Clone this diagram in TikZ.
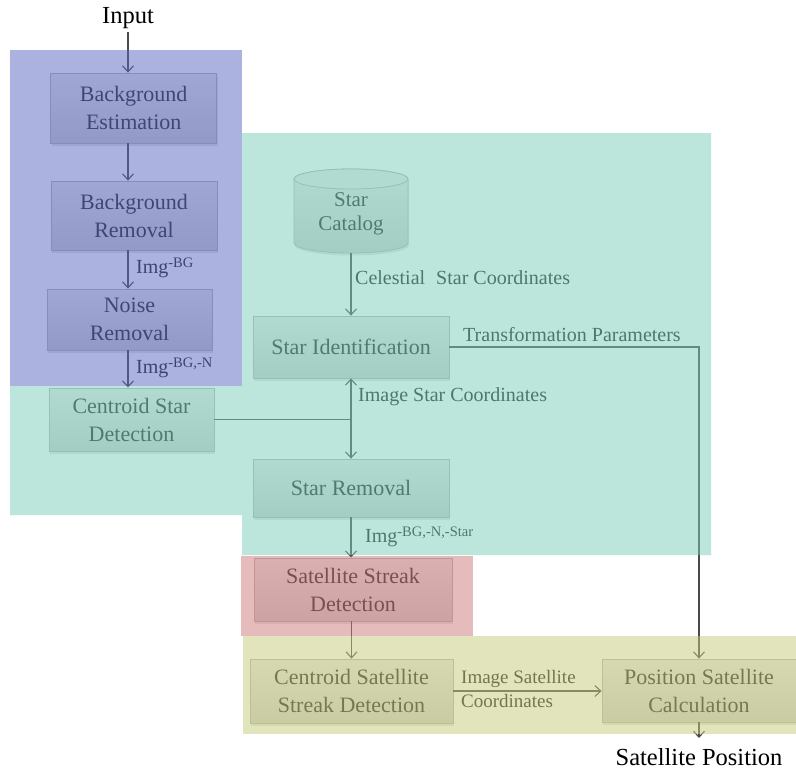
\documentclass[tikz,border=0pt]{standalone}
\usepackage{fontspec}
\setmainfont{Liberation Serif}
\usetikzlibrary{arrows.meta,shadows,calc}
\definecolor{ovblue}{HTML}{5B67C1}
\definecolor{ovgreen}{HTML}{7BCDB9}
\definecolor{ovred}{HTML}{CD797B}
\definecolor{ovyellow}{HTML}{C7CD79}
\definecolor{boxtop}{HTML}{E8E8E8}
\definecolor{boxbot}{HTML}{CDCDCD}
\definecolor{boxline}{HTML}{B4B4B4}
\definecolor{boxtext}{HTML}{262626}
\definecolor{conn}{HTML}{4A4A4A}
\newcommand\mysup[1]{\raisebox{6.5pt}{\fontsize{14.5}{16}\selectfont #1}}
\tikzset{
 procbox/.style={rectangle, draw=boxline, line width=0.8pt, top color=boxtop, bottom color=boxbot,
   text=boxtext, align=center, font=\rmfamily\fontsize{22}{28}\selectfont, inner sep=0pt,
   drop shadow={shadow xshift=1pt, shadow yshift=-2.5pt, opacity=0.2}},
 arr/.style={draw=conn, line width=1.1pt, -{Straight Barb[length=6pt,width=11pt]}},
 plainline/.style={draw=conn, line width=1.1pt},
 lbl/.style={text=black!88, font=\rmfamily\fontsize{20}{24}\selectfont, inner sep=0pt, anchor=west},
 bigtxt/.style={font=\rmfamily\fontsize{24.5}{28}\selectfont, inner sep=0pt},
 regionfill/.style={fill opacity=0.5, draw=none}
}
\begin{document}
\begin{tikzpicture}[x=1pt,y=1pt]
\useasboundingbox (0,0) rectangle (796,-771);
\fill[white] (0,0) rectangle (796,-771);

% top input
\node[bigtxt, inner sep=3pt] (inp) at (128,-18) {Input};

% left column
\node[procbox, minimum width=166pt, minimum height=70pt] (bgest) at (133.7,-108) {Background\\Estimation};
\node[procbox, minimum width=166pt, minimum height=69pt] (bgrem) at (134,-215.5) {Background\\Removal};
\node[procbox, minimum width=165pt, minimum height=61pt] (noise) at (129.5,-319.5) {Noise\\Removal};
\node[procbox, minimum width=165pt, minimum height=63pt] (cent) at (131.5,-419.5) {Centroid Star\\Detection};

% star catalog cylinder
\path[draw=boxline, line width=0.8pt, top color=boxtop, bottom color=boxbot,
  drop shadow={shadow xshift=1pt, shadow yshift=-2.5pt, opacity=0.2}]
  (294,-179) -- (294,-243) arc[start angle=180, end angle=360, x radius=57, y radius=10]
  -- (408,-179) arc[start angle=0, end angle=180, x radius=57, y radius=10] -- cycle;
\path[draw=boxline, line width=0.8pt, fill=boxtop] (351,-179) ellipse[x radius=57, y radius=10];
\node[minimum width=114pt, minimum height=78pt, inner sep=0pt, text=boxtext, align=center,
  font=\rmfamily\fontsize{21}{24}\selectfont] (cat) at (351,-214) {Star\\Catalog};

% middle column
\node[procbox, minimum width=196pt, minimum height=62pt] (sid) at (351,-347) {Star Identification};
\node[procbox, minimum width=196pt, minimum height=58pt] (srem) at (351,-488) {Star Removal};
\node[procbox, minimum width=198pt, minimum height=63pt] (sat) at (353,-589.5) {Satellite Streak\\Detection};
\node[procbox, minimum width=203pt, minimum height=64pt] (csat) at (351.5,-691) {Centroid Satellite\\Streak Detection};
\node[procbox, minimum width=194pt, minimum height=63pt] (pos) at (699,-690.5) {Position Satellite\\Calculation};

% output
\node[bigtxt] (out) at (699,-757) {Satellite Position};
\coordinate (outtip) at (699,-738);

% connectors left column
\draw[arr] (inp.south) -- (bgest.north -| inp.south);
\draw[arr] (bgest.south -| inp.south) -- (bgrem.north -| inp.south);
\draw[arr] (bgrem.south -| inp.south) -- (noise.north -| inp.south);
\draw[arr] (noise.south -| inp.south) -- (cent.north -| inp.south);
\node[lbl] (limg1) at (136,-268) {Img\mysup{-BG}};
\node[lbl] (limg2) at (136,-368) {Img\mysup{-BG,-N}};

% centroid star detection junction
\coordinate (jn) at (cent.east -| sid.south);
\draw[plainline] (cent.east) -- (jn);
\draw[arr] (jn) -- (sid.south);
\draw[arr] (jn) -- (srem.north);
\node[lbl] (limgstar) at (358,-397) {Image Star Coordinates};

% catalog
\draw[arr] (cat.south) -- (sid.north);
\node[lbl] (lcel) at (355,-278) {Celestial\hspace{0.55em}Star Coordinates};

% transformation
\draw[arr] (sid.east) -| (pos.north);
\node[lbl] (ltrans) at (463,-335) {Transformation Parameters};

% lower chain
\draw[arr] (srem.south) -- (sat.north -| srem.south);
\node[lbl] (limg3) at (365,-537) {Img\mysup{-BG,-N,-Star}};
\draw[arr] (sat.south -| csat.north) -- (csat.north);
\draw[arr] (csat.east) -- (csat.east -| pos.west);
\node[lbl, font=\rmfamily\fontsize{19}{24}\selectfont, align=left] (limgsat) at (461,-689) {Image Satellite\\Coordinates};
\draw[arr] (pos.south) -- (outtip);

% translucent regions
\fill[regionfill, ovblue] (10,-50) rectangle (242,-386);
\fill[regionfill, ovgreen] (242,-133) -- (711,-133) -- (711,-555) -- (242,-555) -- (242,-515)
   -- (10,-515) -- (10,-386) -- (242,-386) -- cycle;
\fill[regionfill, ovred] (241,-556) rectangle (473,-636);
\fill[regionfill, ovyellow] (243,-636) rectangle (796,-734);
\end{tikzpicture}
\end{document}
